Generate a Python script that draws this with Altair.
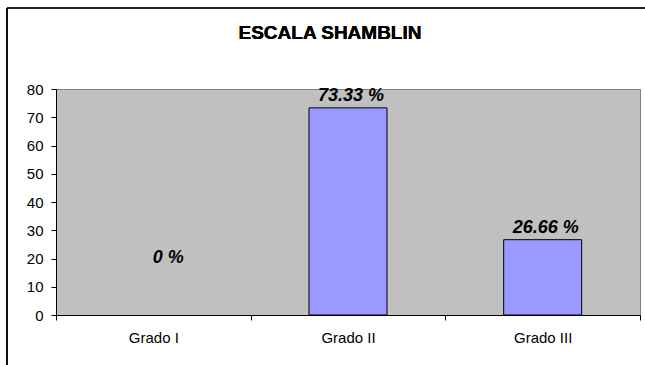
import altair as alt
import pandas as pd

# Shamblin classification results (percent of cases per grade)
categories = ["Grado I", "Grado II", "Grado III"]
values = [0, 73.33, 26.66]
y_ticks = [0, 10, 20, 30, 40, 50, 60, 70, 80]
chart_title = "ESCALA SHAMBLIN"

df = pd.DataFrame({"grado": categories, "valor": values})

FONT = "Liberation Sans"

# shared encodings, reused by every layer so the axes merge cleanly
x_enc = alt.X(
    "grado:N",
    sort=categories,
    title=None,
    scale=alt.Scale(paddingInner=0, paddingOuter=0),
    axis=alt.Axis(
        labelAngle=0,
        labelFont=FONT,
        labelFontSize=15,
        labelColor="black",
        labelPadding=10,
        tickBand="extent",
        tickSize=5,
        tickColor="black",
        domainColor="black",
        grid=False,
    ),
)

y_enc = alt.Y(
    "valor:Q",
    scale=alt.Scale(domain=[0, 80], nice=False),
    title=None,
    axis=alt.Axis(
        values=y_ticks,
        labelOverlap=False,
        labelFont=FONT,
        labelFontSize=15,
        labelColor="black",
        labelPadding=8,
        tickSize=5,
        tickColor="black",
        domainColor="black",
        grid=False,
    ),
)

bars = (
    alt.Chart(df)
    .transform_filter("datum.valor > 0")
    .mark_bar(width=78, color="#9999FF", stroke="black", strokeWidth=1)
    .encode(x=x_enc, y=y_enc)
)

label_style = dict(
    font=FONT,
    fontSize=18,
    fontWeight="bold",
    fontStyle="italic",
    color="black",
    baseline="bottom",
)

# value labels above the non-zero bars
labels = (
    alt.Chart(df)
    .transform_filter("datum.valor > 0")
    .transform_calculate(etiqueta="datum.valor + ' %'")
    .mark_text(dy=-3, dx=3, **label_style)
    .encode(x=x_enc, y=y_enc, text="etiqueta:N")
)

# the zero label floats inside the empty category
zero_labels = (
    alt.Chart(df)
    .transform_filter("datum.valor == 0")
    .transform_calculate(etiqueta="datum.valor + ' %'")
    .mark_text(dx=15, dy=-48, **label_style)
    .encode(x=x_enc, y=y_enc, text="etiqueta:N")
)

# chart title
title = alt.Chart(df).mark_text(
    font=FONT, fontSize=19, fontWeight="bold", color="black", baseline="middle", clip=False
).encode(x=alt.value(274), y=alt.value(-56), text=alt.value(chart_title))

# outer chart frame (top and left edges)
frame_top = alt.Chart(df).mark_rule(color="black", strokeWidth=1.2, clip=False).encode(
    x=alt.value(-49), x2=alt.value(590), y=alt.value(-81)
)
frame_left = alt.Chart(df).mark_rule(color="black", strokeWidth=1.2, clip=False).encode(
    x=alt.value(-49), y=alt.value(-81), y2=alt.value(280)
)

chart = (
    alt.layer(bars, labels, zero_labels, title, frame_top, frame_left)
    .properties(
        width=584,
        height=226,
        autosize=alt.AutoSizeParams(type="none"),
        padding={"left": 56, "top": 89, "right": 5, "bottom": 50},
        view=alt.ViewBackground(fill="#C0C0C0", stroke="#808080", strokeWidth=1),
    )
    .configure(background="white")
)

chart.save("out.html", embed_options={"renderer": "svg", "actions": False})
